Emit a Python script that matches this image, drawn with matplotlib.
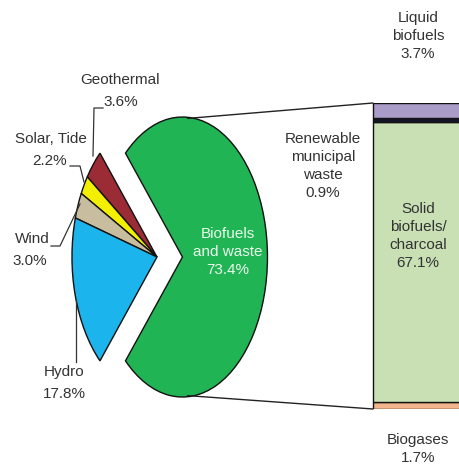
import matplotlib
matplotlib.use("Agg")
import matplotlib.pyplot as plt
from matplotlib.patches import ConnectionPatch

plt.rcParams["font.family"] = ["Liberation Sans", "DejaVu Sans"]

# pie: renewable sources (share of total renewables, %)
pie_labels = ["Geothermal", "Solar, Tide", "Wind", "Hydro", "Biofuels\nand waste"]
pie_values = [3.6, 2.2, 3.0, 17.8, 73.4]
pie_colors = ["#9B2B35", "#F2F000", "#C9BDA0", "#1CB4EC", "#20B455"]

# bar: breakdown of biofuels and waste, bottom to top
bar_labels = ["Biogases", "Solid biofuels/charcoal", "Renewable municipal waste", "Liquid biofuels"]
bar_values = [1.7, 67.1, 0.9, 3.7]
bar_colors = ["#F2B48C", "#C8E0B4", "#15152A", "#A99CC8"]

TXT = "#333333"


def main() -> None:
    fig = plt.figure(figsize=(4.6, 4.7), dpi=100)

    # pie, stretched vertically like the source picture
    ax_pie = fig.add_axes([0.0641, 0.0957, 0.5543, 0.7149])
    small = sum(pie_values[:-1])
    start = 180 - small / 100 * 360 / 2
    ax_pie.pie(pie_values, colors=pie_colors, startangle=start,
               explode=[0, 0, 0, 0, 0.3],
               wedgeprops=dict(edgecolor="#111111", linewidth=1.0))
    ax_pie.set_aspect("auto")
    ax_pie.set_xlim(-1.5, 1.5)
    ax_pie.set_ylim(-1.2, 1.2)
    ax_pie.axis("off")

    # stacked bar; its right side is cut off by the picture edge
    ax_bar = fig.add_axes([372 / 460, 61 / 470, 100 / 460, 306 / 470])
    bottom = 0
    for v, c in zip(bar_values, bar_colors):
        ax_bar.bar(0, v, bottom=bottom, width=2.0, align="edge", color=c,
                   edgecolor="#111111", linewidth=1.0, clip_on=True)
        bottom += v
    ax_bar.set_xlim(-0.01, 1.0)
    ax_bar.set_ylim(0, bottom)
    ax_bar.axis("off")

    # connector lines from pie to bar
    for ya, yb in [(0.99, bottom), (-0.99, 0)]:
        con = ConnectionPatch(xyA=(0.36, ya), coordsA=ax_pie.transData,
                              xyB=(0, yb), coordsB=ax_bar.transData,
                              color="#222222", linewidth=1.0)
        fig.add_artist(con)

    # full-figure overlay in pixel units for labels and leader lines
    ax = fig.add_axes([0, 0, 1, 1])
    ax.set_zorder(10)
    ax.patch.set_alpha(0)
    ax.set_xlim(0, 460)
    ax.set_ylim(470, 0)
    ax.axis("off")

    fs = 11
    # pie labels
    ax.text(120, 80, "Geothermal", ha="center", va="center", fontsize=fs, color=TXT)
    ax.text(121, 102, f"{pie_values[0]:.1f}%", ha="center", va="center", fontsize=fs, color=TXT)
    ax.plot([103, 94, 93], [108, 108, 156], color=TXT, lw=0.9)

    ax.text(51, 139, "Solar, Tide", ha="center", va="center", fontsize=fs, color=TXT)
    ax.text(50, 161, f"{pie_values[1]:.1f}%", ha="center", va="center", fontsize=fs, color=TXT)
    ax.plot([70, 80, 84], [166, 166, 182], color=TXT, lw=0.9)

    ax.text(32, 239, "Wind", ha="center", va="center", fontsize=fs, color=TXT)
    ax.text(30, 261, f"{pie_values[2]:.1f}%", ha="center", va="center", fontsize=fs, color=TXT)
    ax.plot([51, 60, 80], [246, 246, 204], color=TXT, lw=0.9)

    ax.text(64, 372, "Hydro", ha="center", va="center", fontsize=fs, color=TXT)
    ax.text(64, 394, f"{pie_values[3]:.1f}%", ha="center", va="center", fontsize=fs, color=TXT)
    ax.plot([76, 76], [362, 300], color=TXT, lw=0.9)

    ax.text(228, 252, f"{pie_labels[4]}\n{pie_values[4]:.1f}%", ha="center", va="center",
            fontsize=fs, color="#EAF8EA", linespacing=1.4)

    # bar labels
    ax.text(323, 166, f"Renewable\nmunicipal\nwaste\n{bar_values[2]:.1f}%", ha="center",
            va="center", fontsize=fs, color=TXT, linespacing=1.35)
    ax.text(418, 36, f"Liquid\nbiofuels\n{bar_values[3]:.1f}%", ha="center", va="center",
            fontsize=fs, color=TXT, linespacing=1.35)
    ax.text(418, 236, f"Solid\nbiofuels/\ncharcoal\n{bar_values[1]:.1f}%", ha="center",
            va="center", fontsize=fs, color=TXT, linespacing=1.35)
    ax.text(418, 449, f"Biogases\n{bar_values[0]:.1f}%", ha="center", va="center",
            fontsize=fs, color=TXT, linespacing=1.35)

    fig.savefig("out.png", dpi=100)
    plt.close(fig)


if __name__ == "__main__":
    main()
